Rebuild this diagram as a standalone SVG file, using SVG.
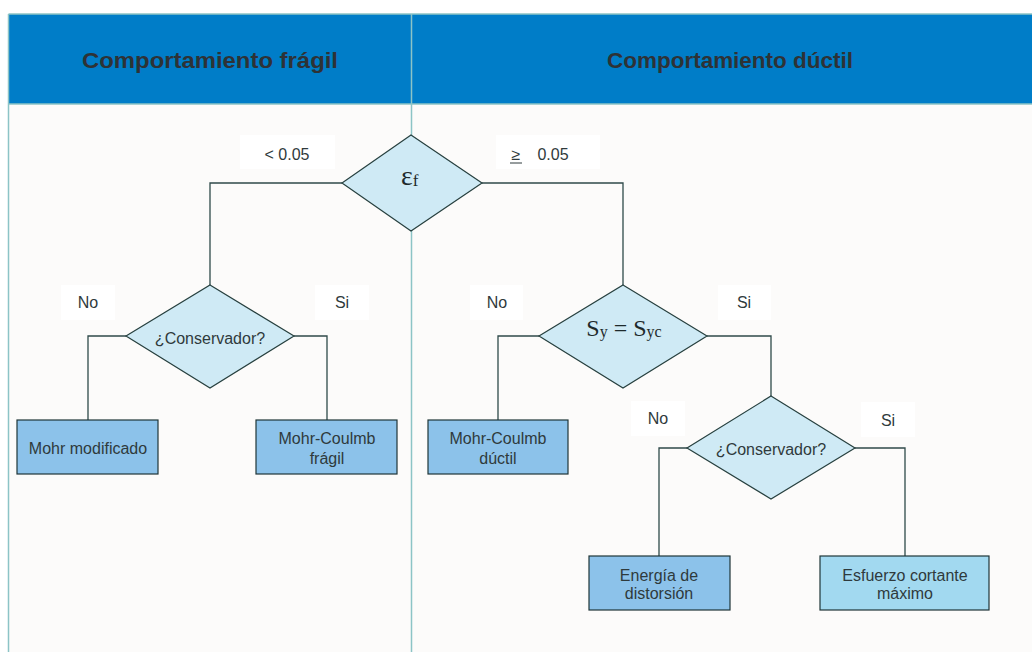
<svg xmlns="http://www.w3.org/2000/svg" width="1032" height="652" viewBox="0 0 1032 652">
<style>
.frame{fill:none;stroke:#8cc4c6;stroke-width:1.5}
.hdr{fill:#007dc8}
.ht{font-family:"Liberation Sans",Arial,sans-serif;font-weight:bold;font-size:22px;fill:#2e3236;text-anchor:middle}
.dia{fill:#cfeaf5;stroke:#27403f;stroke-width:1.2}
.box{stroke:#1f3537;stroke-width:1.2}
.b1{fill:#8cc2ea}
.b2{fill:#a2d9f0}
.lbl{fill:#ffffff}
.t{font-family:"Liberation Sans",Arial,sans-serif;font-size:16px;fill:#2f3a3c;text-anchor:middle}
.s{font-family:"Liberation Serif","Times New Roman",serif;fill:#1e2a2c}
.c{fill:none;stroke:#2f4a4a;stroke-width:1.3}
</style>
<rect x="0" y="0" width="1032" height="652" fill="#ffffff"/>
<rect x="8.5" y="14" width="1030" height="645" fill="#fcfbfa"/>
<rect class="hdr" x="8.5" y="14" width="1030" height="90"/>
<g id="frame">
<line class="frame" x1="8.5" y1="14" x2="8.5" y2="652"/>
<line class="frame" x1="8.5" y1="14" x2="1032" y2="14"/>
<line class="frame" x1="8.5" y1="104" x2="1032" y2="104"/>
<line class="frame" x1="411.5" y1="14" x2="411.5" y2="652"/>
</g>
<text class="ht" x="210" y="68" textLength="256" lengthAdjust="spacingAndGlyphs">Comportamiento frágil</text>
<text class="ht" x="730" y="68" textLength="246" lengthAdjust="spacingAndGlyphs">Comportamiento dúctil</text>
<g id="connectors">
<polyline class="c" points="342,183 210,183 210,285"/>
<polyline class="c" points="482,183 623,183 623,285"/>
<polyline class="c" points="126,336 88,336 88,420"/>
<polyline class="c" points="294,336 327,336 327,420"/>
<polyline class="c" points="539,336 498,336 498,420"/>
<polyline class="c" points="707,336 771,336 771,396"/>
<polyline class="c" points="687,448 659,448 659,556"/>
<polyline class="c" points="855,448 905,448 905,556"/>
</g>
<g id="lbl-lt">
<rect class="lbl" x="240" y="135" width="95" height="34"/>
<text class="t" x="287" y="160" font-size="15">&lt; 0.05</text>
</g>
<g id="lbl-ge">
<rect class="lbl" x="496" y="135" width="104" height="34"/>
<text class="t" x="516" y="160" font-size="15">≥</text>
<line x1="510" y1="163" x2="522" y2="163" stroke="#2f3a3c" stroke-width="1"/>
<text class="t" x="553" y="160" font-size="15">0.05</text>
</g>
<g id="eps">
<polygon class="dia" points="411,135 482,183 411,231 342,183"/>
<text class="s" x="401" y="185" font-size="28">ε<tspan font-size="17" dy="1">f</tspan></text>
</g>
<g id="lbl-no1">
<rect class="lbl" x="61" y="285" width="54" height="35"/>
<text class="t" x="88" y="308">No</text>
</g>
<g id="lbl-si1">
<rect class="lbl" x="315" y="285" width="54" height="35"/>
<text class="t" x="342" y="308">Si</text>
</g>
<g id="cons1">
<polygon class="dia" points="210,285 294,336 210,388 126,336"/>
<text class="t" x="210" y="344">¿Conservador?</text>
</g>
<g id="mohr-mod">
<rect class="box b1" x="17" y="420" width="141" height="54"/>
<text class="t" x="88" y="454">Mohr modificado</text>
</g>
<g id="mc-fragil">
<rect class="box b1" x="256" y="420" width="141" height="54"/>
<text class="t" x="327" y="444">Mohr-Coulmb</text>
<text class="t" x="327" y="464">frágil</text>
</g>
<g id="lbl-no2">
<rect class="lbl" x="470" y="285" width="53" height="35"/>
<text class="t" x="497" y="308">No</text>
</g>
<g id="lbl-si2">
<rect class="lbl" x="718" y="285" width="53" height="35"/>
<text class="t" x="744" y="308">Si</text>
</g>
<g id="sy">
<polygon class="dia" points="623,285 707,336 623,388 539,336"/>
<text class="s" x="624" y="336" font-size="24" text-anchor="middle">S<tspan font-size="16" dy="1">y</tspan><tspan dy="-1"> = S</tspan><tspan font-size="16" dy="1">yc</tspan></text>
</g>
<g id="mc-ductil">
<rect class="box b1" x="428" y="420" width="140" height="54"/>
<text class="t" x="498" y="444">Mohr-Coulmb</text>
<text class="t" x="498" y="464">dúctil</text>
</g>
<g id="lbl-no3">
<rect class="lbl" x="631" y="401" width="54" height="35"/>
<text class="t" x="658" y="424">No</text>
</g>
<g id="lbl-si3">
<rect class="lbl" x="861" y="402" width="54" height="35"/>
<text class="t" x="888" y="426">Si</text>
</g>
<g id="cons2">
<polygon class="dia" points="771,396 855,448 771,499 687,448"/>
<text class="t" x="771" y="455">¿Conservador?</text>
</g>
<g id="energia">
<rect class="box b1" x="589" y="556" width="141" height="54"/>
<text class="t" x="659" y="581">Energía de</text>
<text class="t" x="659" y="599">distorsión</text>
</g>
<g id="esfuerzo">
<rect class="box b2" x="820" y="556" width="169" height="54"/>
<text class="t" x="905" y="581">Esfuerzo cortante</text>
<text class="t" x="905" y="599">máximo</text>
</g>
</svg>
